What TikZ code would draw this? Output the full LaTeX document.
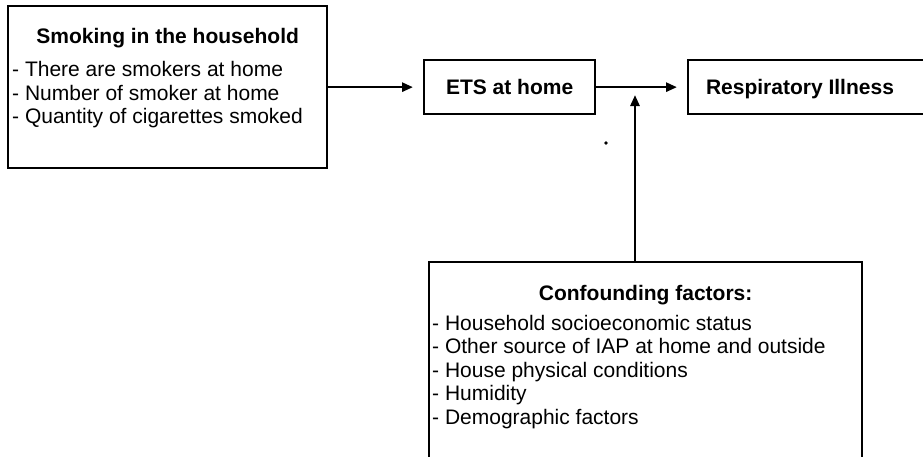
\documentclass[tikz,border=0pt]{standalone}
\usepackage{fontspec}
\setmainfont{Liberation Sans}
\usetikzlibrary{arrows.meta}
\begin{document}
\begin{tikzpicture}[x=1pt,y=-1pt,
  box/.style={draw,line width=2.3pt,inner sep=0pt,anchor=north west},
  head/.style={font=\fontsize{21}{23.5}\selectfont\bfseries,inner sep=0pt,anchor=base},
  item/.style={font=\fontsize{21}{23.5}\selectfont,inner sep=0pt,anchor=base west},
  arr/.style={line width=2.6pt,-{Triangle[length=11pt,width=9pt]}}]
\useasboundingbox (0,0) rectangle (923,456);

% boxes
\node[box,minimum width=319pt,minimum height=162pt] (smoke) at (7,5) {};
\node[box,minimum width=171pt,minimum height=54pt] (ets) at (423,59) {};
\node[box,minimum width=246pt,minimum height=54pt] (resp) at (687,59) {};
\node[box,minimum width=433pt,minimum height=215pt] (conf) at (428,261) {};

% box texts
\node[head] (smoketitle) at (smoke.north |- 0,43) {Smoking in the household};
\node[item] (s1) at (12,76) {- There are smokers at home};
\node[item] (s2) at (12,100) {- Number of smoker at home};
\node[item] (s3) at (12,123.5) {- Quantity of cigarettes smoked};

\node[head] (etstext) at (ets.center |- 0,94) {ETS at home};
\node[head] (resptext) at (800,94) {Respiratory Illness};

\node[head] (conftitle) at (conf.north |- 0,300) {Confounding factors:};
\node[item] (c1) at (432,330) {- Household socioeconomic status};
\node[item] (c2) at (432,353.5) {- Other source of IAP at home and outside};
\node[item] (c3) at (432,377) {- House physical conditions};
\node[item] (c4) at (432,400.5) {- Humidity};
\node[item] (c5) at (432,424) {- Demographic factors};

% connectors
\coordinate (join) at (635,86);
\draw[arr,shorten >=10pt] (smoke.east) -- (ets.west);
\draw[arr,shorten >=10pt] (ets.east) -- (resp.west);
\draw[arr,shorten >=9pt] (conf.north -| join) -- (join);

% small speck below the ETS box
\fill (606,143) circle (1.8pt);
\end{tikzpicture}
\end{document}
